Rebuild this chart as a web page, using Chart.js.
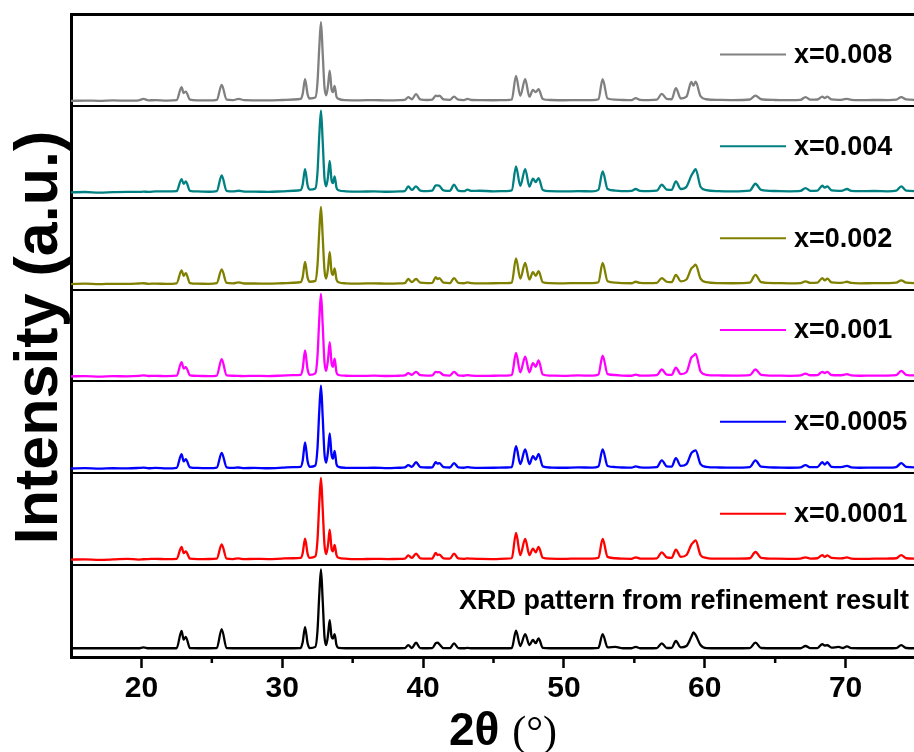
<!DOCTYPE html>
<html>
<head>
<meta charset="utf-8">
<script src="https://cdn.jsdelivr.net/npm/chart.js@4.4.1/dist/chart.umd.min.js"></script>
<style>
html,body{margin:0;padding:0;background:#fff;overflow:hidden;}
#wrap{width:920px;height:752px;position:relative;}
</style>
</head>
<body>
<div id="wrap"><canvas id="c"></canvas></div>
<script>
// 2θ positions shared by every pattern (degrees)
const twoTheta = [
 15.0, 16.0, 17.0, 18.0, 19.0, 19.8, 20.15, 20.5, 21.0, 21.8,
 22.5, 22.85, 23.0, 23.15, 23.45, 24.0, 24.8,
 25.35, 25.7, 26.05, 26.5, 26.9, 27.3, 28.0, 29.0, 30.0, 30.8,
 31.3, 31.45, 31.62, 31.8, 31.95, 32.35, 32.5, 32.63, 32.75, 32.87, 33.0, 33.12, 33.25, 33.37, 33.5, 33.6, 33.72, 33.85, 34.0, 34.5,
 35.5, 36.5, 37.5, 38.3, 38.7, 38.95, 39.2, 39.5, 39.8, 40.3,
 40.65, 40.9, 41.03, 41.15, 41.45, 41.9, 42.2, 42.5, 42.9, 43.15, 43.45, 44.0, 45.0,
 45.9, 46.3, 46.6, 46.9, 47.25, 47.55, 47.8, 48.0, 48.2, 48.5, 49.0, 50.0, 51.0,
 52.0, 52.45, 52.75, 53.1, 53.65, 54.2, 54.8, 55.1, 55.4, 56.0,
 56.6, 56.95, 57.3, 57.65, 57.95, 58.3, 58.7, 59.05, 59.2, 59.35, 59.7, 60.1, 61.0, 62.0,
 63.2, 63.6, 64.0, 65.0, 66.0, 66.8, 67.15, 67.5, 68.0, 68.35, 68.52, 68.7, 69.0,
 69.5, 69.8, 70.1, 70.4, 71.0, 72.0, 73.0, 73.6, 73.95, 74.3, 75.0
];

// Intensities, in percent of one panel height
const refined = [
 9.5, 9.5, 9.5, 9.5, 9.5, 9.5, 10.5, 9.5, 9.5, 9.5,
 9.5, 28.3, 19, 22, 9.6, 9.5, 9.5,
 9.6, 30.4, 9.6, 9.5, 9.5, 9.5, 9.5, 9.5, 9.5, 9.5,
 9.6, 16, 32.6, 15, 9.7, 11, 28, 68, 95.3, 62, 22, 13, 24, 40.2, 22, 20, 25, 13, 10, 9.5,
 9.5, 9.5, 9.5, 9.5, 9.6, 13, 9.8, 15.5, 9.7, 9.5,
 9.6, 15, 15.7, 14, 9.7, 9.6, 14.8, 9.7, 9.5, 10, 9.5, 9.5, 9.5,
 9.5, 9.8, 28.6, 12, 25, 13, 18.5, 15, 20.3, 10, 9.5, 9.5, 9.5,
 9.5, 10, 25, 10.5, 11, 9.5, 9.5, 11, 9.5, 9.5,
 9.7, 14.9, 9.8, 10, 17.4, 10.5, 12, 22, 26.8, 24, 13, 9.7, 9.5, 9.5,
 9.7, 15.6, 9.8, 9.5, 9.5, 9.5, 12, 9.6, 9.7, 14.1, 12.5, 12.8, 10.2,
 11, 9.8, 11.5, 9.6, 9.5, 9.5, 9.5, 9.7, 13, 9.8, 9.5
];
const x0001 = [
 6, 6.3, 5.8, 6.2, 6.8, 6.1, 6.4, 6.6, 6.9, 6.5,
 6.8, 19.8, 13, 15, 7, 6.5, 6.7,
 7, 22.6, 7, 6.6, 7.4, 6.5, 6.9, 6.6, 7.2, 7.5,
 7.8, 13, 28.8, 12.5, 8, 9.5, 27, 68, 95, 62, 22, 12, 22, 38.6, 18, 15, 22, 11, 8, 7,
 6.5, 6.9, 6.6, 6.8, 7, 10.6, 8, 12.5, 7.5, 7,
 7.2, 13.2, 11, 11.5, 7.5, 7, 12.5, 7.3, 6.9, 7.4, 7, 6.8, 6.6,
 7, 7.5, 35, 11, 28.5, 11, 18, 14, 19.8, 8, 7, 6.8, 7.2,
 7, 8, 28.5, 9, 7.5, 7, 6.9, 8.5, 7.2, 7,
 7.4, 14, 8.5, 8, 16.8, 9, 11, 22.3, 25, 27, 11, 8, 7, 7,
 7.5, 14.3, 8, 7, 6.9, 7.2, 8.5, 7.2, 7.5, 11, 9, 10.6, 7.8,
 7.3, 7.5, 8.5, 7.2, 6.8, 7, 7.2, 7.5, 11, 7.5, 7
];
const x0005 = [
 5.2, 5.6, 5.0, 5.5, 5.3, 5.8, 6.2, 5.5, 5.9, 5.4,
 6, 20.8, 13, 15.3, 6.5, 5.8, 5.6,
 6.2, 22.2, 6.5, 5.8, 6.3, 5.6, 5.9, 5.5, 6.1, 6.8,
 7, 13.5, 33.6, 13, 7, 8.5, 27, 68, 95.3, 62, 21, 11.5, 24, 43.5, 20, 16, 24.4, 10, 7, 6,
 5.8, 6, 5.6, 6, 6.4, 8.8, 7, 12, 6.8, 6.3,
 6.5, 12, 10.5, 11, 6.8, 6.3, 11, 6.5, 6, 6.8, 6.2, 5.9, 6,
 6.3, 6.8, 29.6, 10, 26, 10, 18.6, 15, 21, 7.5, 6.3, 6, 6.4,
 6.2, 7.5, 26, 8, 6.8, 6.3, 6.1, 7.5, 6.4, 6.2,
 6.6, 14, 7.5, 7.2, 16.4, 8, 10, 22, 24, 25, 10, 7, 6.3, 6.1,
 6.8, 14, 7.2, 6.3, 6, 6.4, 8.8, 6.6, 6.8, 12, 9.5, 12, 7,
 6.6, 7, 8, 6.5, 6, 6.2, 6.1, 6.8, 11, 7, 6.4
];
const x001 = [
 5.5, 5.8, 5.3, 5.7, 5.6, 6, 6.5, 5.9, 6.1, 5.7,
 6.2, 21, 14, 15.6, 6.6, 6, 5.8,
 6.4, 24.3, 6.6, 6.2, 6, 5.8, 6.1, 5.8, 6.4, 6.9,
 7.2, 13.5, 33.7, 13, 7.2, 8.8, 27, 68, 95.3, 62, 21, 11.5, 24, 42.8, 20, 16, 24.7, 10, 7, 6.2,
 6, 6.3, 5.9, 6.2, 6.5, 9, 7.2, 10.5, 6.8, 6.4,
 6.6, 10.5, 10, 10.2, 6.9, 6.4, 10.5, 6.6, 6.2, 6.8, 6.3, 6, 6.2,
 6.4, 7, 31, 10, 27, 10, 20, 16, 23, 7.5, 6.4, 6.1, 6.5,
 6.3, 7.5, 28, 8, 7, 6.4, 6.2, 7.5, 6.4, 6.3,
 6.8, 13, 7.5, 7.2, 15, 8, 10, 26, 28, 30, 11, 7.2, 6.5, 6.3,
 6.8, 13, 7.2, 6.4, 6.1, 6.5, 8.5, 6.7, 6.9, 10.5, 9, 10.5, 7,
 6.7, 7, 8, 6.6, 6.2, 6.4, 6.3, 6.8, 11.5, 7.2, 6.5
];
const x002 = [
 6, 6.4, 5.9, 6.3, 6.1, 6.6, 6.9, 6.3, 6.5, 6.2,
 6.8, 21, 15, 18, 7, 6.4, 6.3,
 7, 22, 7.2, 6.7, 7.8, 6.6, 6.6, 6.4, 6.9, 7.4,
 8, 13.5, 30, 13, 8.5, 9.5, 26, 64, 90, 58, 21, 12, 23, 41, 19, 16, 23, 11, 8, 6.8,
 6.5, 6.8, 6.4, 6.7, 7, 11.5, 8, 11.5, 7.5, 7,
 7.2, 13.6, 11.5, 12.5, 7.5, 7, 12.5, 7.3, 6.9, 7.8, 7, 6.8, 6.9,
 7, 7.6, 34, 12, 29, 11, 19, 15, 20, 8, 7, 6.8, 7.1,
 7, 8, 29, 9, 7.6, 7, 6.9, 8.5, 7.2, 7,
 7.4, 12.5, 8.5, 8, 16, 9, 11, 23, 25, 27, 12, 8, 7, 6.9,
 7.5, 16, 8, 7, 6.8, 7.1, 9, 7.2, 7.5, 12.5, 10, 12, 7.8,
 7.3, 7.5, 8.5, 7.2, 6.8, 7, 7.1, 7.5, 10, 7.5, 7
];
const x004 = [
 5.8, 6.2, 5.6, 6.1, 6.4, 6.3, 6.6, 6.4, 6.9, 7,
 7.2, 20.3, 15, 17.7, 7.5, 6.8, 6.5,
 7.2, 24.2, 7.5, 6.8, 7.6, 6.6, 6.6, 6.4, 7, 7.6,
 8.2, 14, 31.2, 13.5, 8.8, 10, 27, 68, 94.9, 62, 21, 12.5, 23, 40.2, 19, 16, 23.2, 11, 8.2, 7,
 6.6, 6.9, 6.5, 6.8, 7.2, 12.3, 8.5, 12.3, 7.8, 7.2,
 7.6, 13.4, 13.4, 13, 8, 7.4, 14.1, 7.8, 7.2, 8.7, 7.4, 7.6, 7,
 7.2, 8, 34, 13, 31.2, 12, 20.7, 17, 21.4, 8.5, 7.2, 6.9, 7.1,
 7, 8.5, 28.6, 9.5, 7.8, 7.2, 7.4, 9.5, 7.4, 7.1,
 7.6, 14.1, 8.8, 8.5, 17.7, 9.5, 12, 24.2, 28, 31.2, 12, 8.3, 7.2, 7,
 7.8, 15.2, 8.5, 7.3, 7, 7.4, 10.5, 7.5, 7.8, 13, 11, 12.3, 8,
 7.5, 7.8, 9.5, 7.4, 7.1, 7.3, 7, 7.6, 12.3, 7.8, 7.2
];
const x008 = [
 5.4, 5.8, 5.5, 5.9, 5.6, 6, 7.6, 6, 6.2, 5.8,
 6.3, 20.3, 14, 15.6, 6.8, 6, 5.9,
 6.5, 22.8, 6.8, 6.3, 7.6, 6.2, 6, 5.9, 6.4, 6.9,
 7.5, 13, 29, 12.5, 8, 9, 25, 64, 91, 58, 20, 11.5, 22, 38.4, 18, 15, 21.7, 10, 7.6, 6.2,
 6, 6.3, 5.9, 6.2, 6.4, 9.4, 7.2, 12.7, 7, 6.4,
 6.8, 11.2, 10.5, 11.2, 7, 6.5, 10, 6.7, 6.3, 7.5, 6.4, 6.2, 6.1,
 6.3, 6.9, 32.6, 11, 29, 10, 17.4, 15, 18.1, 7.5, 6.4, 6.1, 6.3,
 6.2, 7.2, 29, 8, 6.8, 6.4, 6.2, 8.4, 6.5, 6.3,
 6.8, 13, 7.6, 7.2, 19.2, 8, 10, 26, 22, 26.4, 10.5, 7.2, 6.5, 6.3,
 6.9, 11.2, 7.2, 6.4, 6.2, 6.5, 9.5, 6.7, 6.9, 10, 8.5, 10, 7,
 6.6, 6.9, 7.6, 6.6, 6.2, 6.4, 6.3, 6.8, 9.5, 7, 6.5
];

const seriesLabels = ['XRD pattern from refinement result', 'x=0.0001', 'x=0.0005', 'x=0.001', 'x=0.002', 'x=0.004', 'x=0.008'];
const seriesValues = [refined, x0001, x0005, x001, x002, x004, x008];
const seriesColors = ['#000000', '#ff0000', '#0000ff', '#ff00ff', '#808000', '#008080', '#808080'];
const xTickValues = [20, 30, 40, 50, 60, 70];

const panelCount = seriesValues.length;
const datasets = seriesValues.map((vals, i) => {
  if (vals.length !== twoTheta.length) console.error('length mismatch', i, vals.length, twoTheta.length);
  return {
    label: seriesLabels[i],
    data: twoTheta.map((t, k) => ({x: t, y: i + vals[k] / 100})),
    borderColor: seriesColors[i],
    backgroundColor: seriesColors[i],
    borderWidth: 2.3,
    pointRadius: 0,
    cubicInterpolationMode: 'monotone',
    fill: false
  };
});

const SANS = '"Liberation Sans", Arial, sans-serif';
const SERIF = '"Liberation Serif", "Times New Roman", serif';

const decor = {
  id: 'decor',
  afterDraw(chart) {
    const ctx = chart.ctx;
    const xs = chart.scales.x, ys = chart.scales.y, ca = chart.chartArea;
    ctx.save();
    // minor ticks
    ctx.strokeStyle = '#000';
    ctx.lineWidth = 2.5;
    for (let v = 25; v < 75; v += 10) {
      const px = xs.getPixelForValue(v);
      ctx.beginPath(); ctx.moveTo(px, ca.bottom); ctx.lineTo(px, ca.bottom + 6); ctx.stroke();
    }
    // legends
    ctx.font = 'bold 27px ' + SANS;
    ctx.textBaseline = 'middle';
    for (let i = 1; i < panelCount; i++) {
      const py = ys.getPixelForValue(i + 0.56);
      ctx.strokeStyle = seriesColors[i];
      ctx.lineWidth = 2;
      ctx.beginPath(); ctx.moveTo(ca.right - 196, py); ctx.lineTo(ca.right - 130, py); ctx.stroke();
      ctx.fillStyle = '#000';
      ctx.textAlign = 'left';
      ctx.fillText(seriesLabels[i], ca.right - 122, py + 1);
    }
    ctx.textAlign = 'right';
    ctx.fillText(seriesLabels[0], ca.right - 7, ys.getPixelForValue(0.6));
    // y title
    ctx.save();
    ctx.translate(57, (ca.top + ca.bottom) / 2 + 2);
    ctx.rotate(-Math.PI / 2);
    ctx.font = 'bold 61px ' + SANS;
    ctx.textAlign = 'center';
    ctx.textBaseline = 'alphabetic';
    ctx.fillText('Intensity (a.u.)', 0, 0);
    ctx.restore();
    // x title
    ctx.textBaseline = 'alphabetic';
    ctx.textAlign = 'left';
    ctx.font = 'bold 46px ' + SANS;
    const t1 = '2θ ';
    const w1 = ctx.measureText(t1).width;
    ctx.font = '42px ' + SERIF;
    const t2 = '(°)';
    const w2 = ctx.measureText(t2).width;
    let sx = 503 - (w1 + w2) / 2;
    ctx.font = 'bold 46px ' + SANS;
    ctx.fillText(t1, sx, 745);
    ctx.font = '42px ' + SERIF;
    ctx.fillText(t2, sx + w1, 745);
    ctx.restore();
  }
};

new Chart(document.getElementById('c'), {
  type: 'line',
  data: { datasets },
  options: {
    responsive: true,
    maintainAspectRatio: false,
    animation: false,
    layout: { padding: { left: 71, top: 14, right: 4, bottom: 0 } },
    plugins: { legend: { display: false }, tooltip: { enabled: false } },
    scales: {
      x: {
        type: 'linear', position: 'bottom', min: 15, max: 75,
        afterBuildTicks: s => { s.ticks = [15,20,25,30,35,40,45,50,55,60,65,70,75].map(v => ({value: v})); },
        ticks: {
          autoSkip: false, maxRotation: 0, padding: 3, color: '#000',
          font: { family: SANS, size: 30, weight: 'bold' },
          callback: v => xTickValues.includes(v) ? String(v) : ''
        },
        grid: {
          drawOnChartArea: false, drawTicks: true, tickLength: 11, tickWidth: 2.5,
          tickColor: c => (c.tick && xTickValues.includes(c.tick.value)) ? '#000' : 'rgba(0,0,0,0)'
        },
        border: { display: true, color: '#000', width: 3 },
        afterFit: s => { s.height = 95; }
      },
      y: {
        min: 0, max: panelCount,
        ticks: { display: false, stepSize: 1 },
        grid: {
          drawTicks: false, color: '#000',
          lineWidth: c => (c.tick && c.tick.value === panelCount) ? 3 : (c.tick && c.tick.value === 0 ? 0 : 2)
        },
        border: { display: true, color: '#000', width: 3 },
        afterFit: s => { s.width = 0; }
      }
    }
  },
  plugins: [decor]
});
</script>
</body>
</html>
